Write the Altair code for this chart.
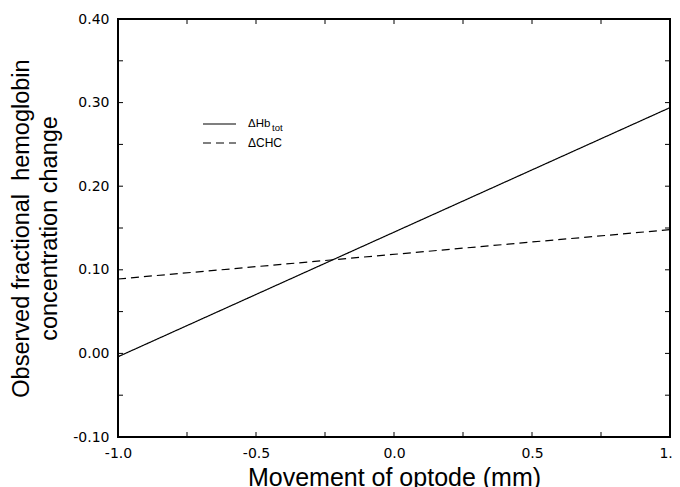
import altair as alt
import pandas as pd

# data
x_vals = [-1.0, 1.0]
hb_tot = [-0.004, 0.294]
chc = [0.089, 0.148]
series_names = ["ΔHbtot", "ΔCHC"]

x_ticks = [-1.0, -0.75, -0.5, -0.25, 0.0, 0.25, 0.5, 0.75, 1.0]
x_labels = [-1.0, -0.5, 0.0, 0.5, 1.0]
y_ticks = [-0.10, -0.05, 0.00, 0.05, 0.10, 0.15, 0.20, 0.25, 0.30, 0.35, 0.40]
y_labels = [-0.10, 0.00, 0.10, 0.20, 0.30, 0.40]

df = pd.DataFrame({
    "x": x_vals * 2,
    "y": hb_tot + chc,
    "series": [series_names[0]] * 2 + [series_names[1]] * 2,
})

FONT = "Liberation Sans"
LFONT = "DejaVu Sans"
W, H = 552, 418
xs = alt.Scale(domain=[-1.0, 1.0], nice=False, zero=False)
ys = alt.Scale(domain=[-0.10, 0.40], nice=False, zero=False)

x_axis = alt.Axis(
    values=x_labels, ticks=False, grid=False, domain=False, labelFlush=False,
    labelExpr="datum.value < 0 ? '-' + format(abs(datum.value), '.1f') : format(datum.value, '.1f')",
    labelFont=LFONT, labelFontSize=14, labelColor="black", labelPadding=9,
    title="Movement of optode (mm)", titleFont=FONT, titleFontSize=25,
    titleFontWeight="normal", titleColor="black", titleY=48, titleBaseline="alphabetic",
)
y_axis = alt.Axis(
    values=y_labels, ticks=False, grid=False, domain=False,
    labelExpr="datum.value < 0 ? '-' + format(abs(datum.value), '.2f') : format(datum.value, '.2f')",
    labelFont=LFONT, labelFontSize=14, labelColor="black", labelPadding=9,
    title=["Observed fractional\u00a0\u00a0hemoglobin", "concentration change"],
    titleFont=FONT, titleFontSize=23.5, titleFontWeight="normal", titleColor="black",
    titleLineHeight=28, titleX=-109, titleBaseline="top", titleAngle=-90,
)

lines = alt.Chart(df).mark_line(color="black", strokeWidth=1.2).encode(
    x=alt.X("x:Q", scale=xs, axis=x_axis),
    y=alt.Y("y:Q", scale=ys, axis=y_axis),
    strokeDash=alt.StrokeDash("series:N", scale=alt.Scale(domain=series_names, range=[[1, 0], [8, 5]]), legend=None),
    detail="series:N",
)

xt = pd.DataFrame({"v": x_ticks})
yt = pd.DataFrame({"v": y_ticks})
tick_style = dict(color="black", strokeWidth=1)
xb = alt.Chart(xt).mark_rule(**tick_style).encode(x=alt.X("v:Q", scale=xs), y=alt.value(H), y2=alt.value(H - 5))
xtp = alt.Chart(xt).mark_rule(**tick_style).encode(x=alt.X("v:Q", scale=xs), y=alt.value(0), y2=alt.value(5))
yl = alt.Chart(yt).mark_rule(**tick_style).encode(y=alt.Y("v:Q", scale=ys), x=alt.value(0), x2=alt.value(5))
yr = alt.Chart(yt).mark_rule(**tick_style).encode(y=alt.Y("v:Q", scale=ys), x=alt.value(W), x2=alt.value(W - 5))

one = pd.DataFrame({"a": [0]})
frame_style = dict(color="black", strokeWidth=2)
f_top = alt.Chart(one).mark_rule(**frame_style).encode(x=alt.value(-1), x2=alt.value(W + 1), y=alt.value(0))
f_bot = alt.Chart(one).mark_rule(**frame_style).encode(x=alt.value(-1), x2=alt.value(W + 1), y=alt.value(H))
f_lft = alt.Chart(one).mark_rule(**frame_style).encode(y=alt.value(-1), y2=alt.value(H + 1), x=alt.value(0))
f_rgt = alt.Chart(one).mark_rule(**frame_style).encode(y=alt.value(-1), y2=alt.value(H + 1), x=alt.value(W))

# legend (hand-drawn)
leg1 = alt.Chart(one).mark_rule(color="black", strokeWidth=1.2).encode(
    x=alt.value(85), x2=alt.value(118), y=alt.value(105))
leg2 = alt.Chart(one).mark_rule(color="black", strokeWidth=1.2, strokeDash=[8, 5]).encode(
    x=alt.value(85), x2=alt.value(118), y=alt.value(124))
t1 = alt.Chart(one).mark_text(
    text="ΔHb", font=FONT, fontSize=11.5, align="left", baseline="middle", color="black").encode(
    x=alt.value(130), y=alt.value(105))
t1s = alt.Chart(one).mark_text(
    text="tot", font=FONT, fontSize=9.5, align="left", baseline="middle", color="black").encode(
    x=alt.value(154), y=alt.value(109))
t2 = alt.Chart(one).mark_text(
    text="ΔCHC", font=FONT, fontSize=12, align="left", baseline="middle", color="black").encode(
    x=alt.value(130), y=alt.value(124))

chart = alt.layer(lines, xb, xtp, yl, yr, f_top, f_bot, f_lft, f_rgt, leg1, leg2, t1, t1s, t2).properties(
    width=W, height=H,
    background="white",
    autosize=alt.AutoSizeParams(type="none"),
    padding={"left": 110, "top": 11, "right": 2, "bottom": 50},
).configure_view(stroke=None)

chart.save("out.html", embed_options={"renderer": "svg", "actions": False})
